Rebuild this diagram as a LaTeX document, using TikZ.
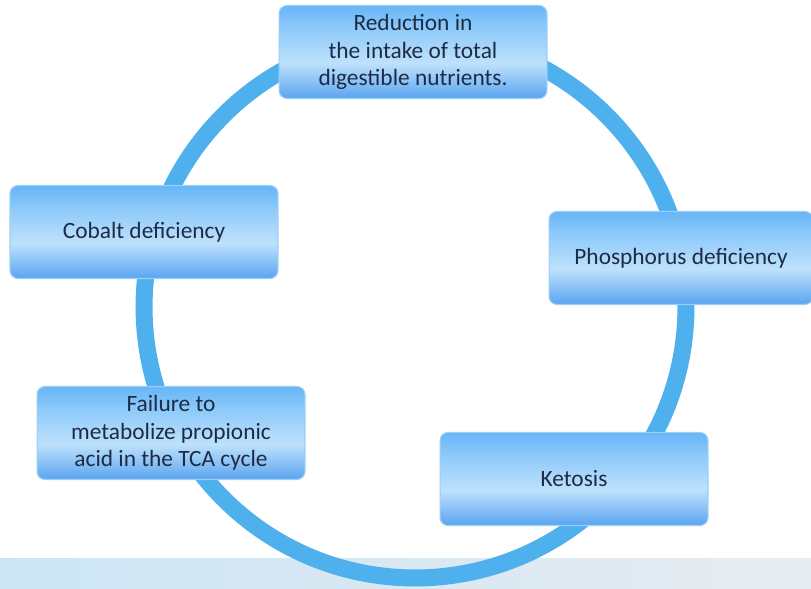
\documentclass[tikz,border=0pt]{standalone}
\usepackage{fontspec}
\setmainfont{Carlito}
\definecolor{azultopo}{HTML}{68B5F7}
\definecolor{azulsup}{HTML}{8FCBFA}
\definecolor{azulmeio}{HTML}{BEE1FC}
\definecolor{azulbaixo}{HTML}{5AA4F0}
\definecolor{borda}{HTML}{9ACFF8}
\definecolor{anelazul}{HTML}{4EB0EC}
\definecolor{texto}{HTML}{1E2B45}
\definecolor{faixaesq}{HTML}{CCE5F4}
\definecolor{faixadir}{HTML}{E7ECF1}
\pgfdeclareverticalshading{caixa}{100bp}{color(0bp)=(azulbaixo); color(25bp)=(azulbaixo); color(44bp)=(azulmeio); color(62bp)=(azulsup); color(75bp)=(azultopo); color(100bp)=(azultopo)}
\begin{document}
\begin{tikzpicture}[x=0.02cm,y=-0.02cm]
        %======estilos dos blocos==========%
        
            \tikzstyle{bloco}=[rectangle,rounded corners=0.16cm,shading=caixa,draw=borda,line width=0.6pt,minimum width=5.36cm,minimum height=1.86cm,text=texto,font=\fontsize{13.3}{15.6}\selectfont,align=center]
            \tikzstyle{anel}=[circle,draw=anelazul,line width=0.34cm,minimum size=10.84cm,inner sep=0pt]
        
        %====================%%=============%  
        
            \useasboundingbox (0,0) rectangle (811,588);
            \fill[left color=faixaesq,right color=faixadir] (0,558) rectangle (811,588);
        
            \node[anel](O) at (415,307) {};
        
            \node[bloco](A) at (413,52) {Reduction in\\the intake of total\\digestible nutrients.};
            \node[bloco,minimum width=5.28cm](B) at (681,258) {Phosphorus deficiency};
            \node[bloco](C) at (574,479) {Ketosis};
            \node[bloco](D) at (171,433) {Failure to\\metabolize propionic\\acid in the TCA cycle};
            \node[bloco](E) at (144,232) {Cobalt deficiency};
        \end{tikzpicture}
\end{document}
